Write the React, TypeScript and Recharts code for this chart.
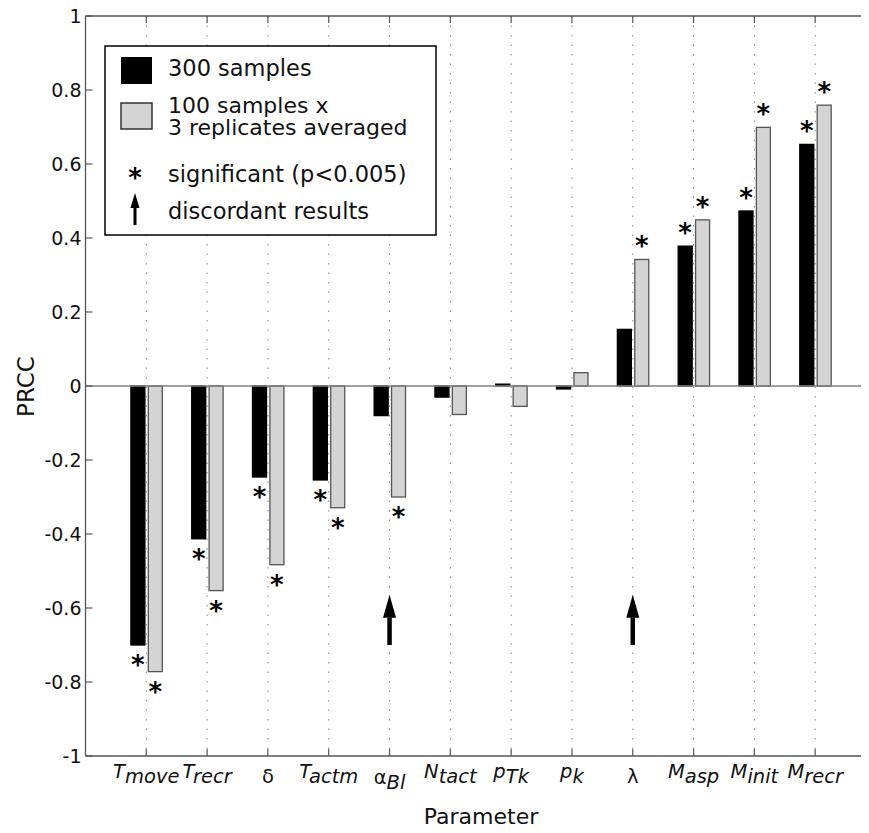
import React from 'react';
import { BarChart, Bar, XAxis, YAxis, CartesianGrid, ReferenceLine, ReferenceDot } from 'recharts';

// ---------- data ----------
const categories = ['T_move', 'T_recr', 'δ', 'T_actm', 'α_Bl', 'N_tact', 'p_Tk', 'p_k', 'λ', 'M_asp', 'M_init', 'M_recr'];
const prcc300 = [-0.70, -0.413, -0.246, -0.254, -0.08, -0.03, 0.005, -0.008, 0.153, 0.378, 0.473, 0.653];
const prcc100x3 = [-0.772, -0.553, -0.483, -0.329, -0.30, -0.077, -0.055, 0.036, 0.342, 0.449, 0.699, 0.759];
const sig300 = [true, true, true, true, false, false, false, false, false, true, true, true];
const sig100x3 = [true, true, true, true, true, false, false, false, true, true, true, true];
const discordant = ['α_Bl', 'λ'];
const arrowFrom = -0.70;
const arrowHeadBase = -0.626;
const arrowTip = -0.564;
const yTicks = [-1, -0.8, -0.6, -0.4, -0.2, 0, 0.2, 0.4, 0.6, 0.8, 1];
const legendLabels = ['300 samples', '100 samples x', '3 replicates averaged', 'significant (p<0.005)', 'discordant results'];
const xTitle = 'Parameter';
const yTitle = 'PRCC';

const data = categories.map((c, i) => ({ name: c, s300: prcc300[i], s100: prcc100x3[i] }));

// ---------- style ----------
const FONT = "'DejaVu Sans', 'Liberation Sans', sans-serif";
const AX = '#555';
const TXT = '#111';
const GRAY = '#d4d4d4';
const W = 880;
const H = 833;

const fmt = (v: number) => String(Math.round(v * 10) / 10);

function BottomTick(props: any) {
  const { x, y, payload } = props;
  const label = String(payload.value);
  const [base, sub] = label.split('_');
  const greek = /[\u0370-\u03FF]/.test(base);
  const baseY = y + (greek ? (sub ? 28 : 26.5) : 22);
  return (
    <g>
      <line x1={x} x2={x} y1={y} y2={y - 7} stroke={AX} strokeWidth={1.2} />
      <text x={x} y={baseY} textAnchor="middle" fontFamily={FONT} fontSize={19.5} fill={TXT}>
        <tspan fontStyle={greek ? 'normal' : 'italic'}>{base}</tspan>
        {sub ? <tspan fontStyle="italic" dy={5}>{sub}</tspan> : null}
      </text>
    </g>
  );
}

function TopTick(props: any) {
  const { x, y } = props;
  return <line x1={x} x2={x} y1={y} y2={y + 7} stroke={AX} strokeWidth={1.2} />;
}

function LeftTick(props: any) {
  const { x, y, payload } = props;
  return (
    <g>
      <line x1={x} x2={x + 7} y1={y} y2={y} stroke={AX} strokeWidth={1.2} />
      <text x={x - 4} y={y} dy="0.36em" textAnchor="end" fontFamily={FONT} fontSize={19} fill={TXT}>
        {fmt(payload.value)}
      </text>
    </g>
  );
}

function RightTick(props: any) {
  const { x, y } = props;
  return <line x1={x} x2={x - 7} y1={y} y2={y} stroke={AX} strokeWidth={1.2} />;
}

function makeShape(key: 's300' | 's100', sig: boolean[], fill: string, stroke: string) {
  return (props: any) => {
    const { x, y, width, height, index, payload } = props;
    const top = Math.min(y, y + height);
    const bottom = Math.max(y, y + height);
    const v = payload ? payload[key] : 0;
    const cx = x + width / 2;
    const starY = v >= 0 ? top - 18 + 14 : bottom + 15 + 14;
    return (
      <g>
        <rect x={x} y={top} width={width} height={Math.max(bottom - top, 0.5)} fill={fill} stroke={stroke} strokeWidth={1.3} />
        {sig[index] ? (
          <text x={cx} y={starY} textAnchor="middle" fontFamily={FONT} fontWeight="bold" fontSize={26} fill="#000">*</text>
        ) : null}
      </g>
    );
  };
}

const ArrowHead = (props: any) => {
  const { cx, cy } = props;
  return <polygon points={`${cx},${cy} ${cx - 6.5},${cy + 23} ${cx + 6.5},${cy + 23}`} fill="#000" />;
};

function Overlay() {
  return (
    <svg width={861} height={H} style={{ position: 'absolute', left: 0, top: 0, pointerEvents: 'none' }}>
      {/* legend */}
      <rect x={97} y={46} width={331} height={189} fill="#fff" stroke="#000" strokeWidth={1.5} />
      <rect x={113} y={57} width={31} height={27} fill="#000" />
      <text x={160} y={76} fontFamily={FONT} fontSize={22.5} fill={TXT}>{legendLabels[0]}</text>
      <rect x={113} y={103} width={31} height={26} fill={GRAY} stroke="#333" strokeWidth={1.5} />
      <text fontFamily={FONT} fontSize={22} fill={TXT}>
        <tspan x={160} y={113}>{legendLabels[1]}</tspan>
        <tspan x={160} y={135}>{legendLabels[2]}</tspan>
      </text>
      <text x={127} y={187} textAnchor="middle" fontFamily={FONT} fontWeight="bold" fontSize={26} fill="#000">*</text>
      <text x={160} y={182} fontFamily={FONT} fontSize={22.5} fill={TXT}>{legendLabels[3]}</text>
      <line x1={127} x2={127} y1={206} y2={225} stroke="#000" strokeWidth={3} />
      <polygon points="127,193 122.5,208 131.5,208" fill="#000" />
      <text x={160} y={219} fontFamily={FONT} fontSize={22.5} fill={TXT}>{legendLabels[4]}</text>
      {/* axis titles */}
      <text x={473} y={824} textAnchor="middle" fontFamily={FONT} fontSize={22} fill={TXT}>{xTitle}</text>
      <text x={0} y={0} transform="translate(26,386.5) rotate(-90)" textAnchor="middle" fontFamily={FONT} fontSize={23} fill={TXT}>{yTitle}</text>
    </svg>
  );
}

export default function App() {
  const plotW = 868 - 77.5;
  const pad = plotW / 13 / 2;
  return (
    <div style={{ position: 'relative', width: 861, height: H, overflow: 'hidden', marginTop: -8, marginBottom: -8 }}>
      <BarChart
        width={W}
        height={H}
        data={data}
        margin={{ top: 15, right: 11, bottom: 37, left: 17.5 }}
        barSize={14}
        barGap={3.4}
      >
        <CartesianGrid horizontal={false} vertical={true} stroke="#8a8a8a" strokeDasharray="1.5 8" />
        <XAxis
          dataKey="name"
          height={40}
          interval={0}
          padding={{ left: pad, right: pad }}
          tickSize={0}
          tickMargin={0}
          tickLine={false}
          axisLine={{ stroke: AX, strokeWidth: 1.3 }}
          tick={<BottomTick />}
        />
        <XAxis
          xAxisId="top"
          orientation="top"
          dataKey="name"
          height={1}
          interval={0}
          padding={{ left: pad, right: pad }}
          tickSize={0}
          tickMargin={0}
          tickLine={false}
          axisLine={{ stroke: AX, strokeWidth: 1.3 }}
          tick={<TopTick />}
        />
        <YAxis
          width={60}
          domain={[-1, 1]}
          ticks={yTicks}
          interval={0}
          type="number"
          allowDataOverflow
          tickSize={0}
          tickMargin={0}
          tickLine={false}
          axisLine={{ stroke: AX, strokeWidth: 1.3 }}
          tick={<LeftTick />}
        />
        <YAxis
          yAxisId="r"
          orientation="right"
          width={1}
          domain={[-1, 1]}
          ticks={yTicks}
          interval={0}
          type="number"
          allowDataOverflow
          tickSize={0}
          tickMargin={0}
          tickLine={false}
          axisLine={{ stroke: AX, strokeWidth: 1.3 }}
          tick={<RightTick />}
        />
        <Bar dataKey="s300" fill="#000" isAnimationActive={false} shape={makeShape('s300', sig300, '#000', '#000')} />
        <Bar dataKey="s100" fill={GRAY} isAnimationActive={false} shape={makeShape('s100', sig100x3, GRAY, '#555')} />
        <ReferenceLine y={0} stroke="#808080" strokeWidth={1.5} />
        {discordant.map((c) => (
          <ReferenceLine
            key={'l' + c}
            segment={[{ x: c, y: arrowFrom }, { x: c, y: arrowHeadBase }]}
            stroke="#000"
            strokeWidth={4.5}
          />
        ))}
        {discordant.map((c) => (
          <ReferenceDot key={'d' + c} x={c} y={arrowTip} r={1} shape={<ArrowHead />} />
        ))}
      </BarChart>
      <Overlay />
    </div>
  );
}
